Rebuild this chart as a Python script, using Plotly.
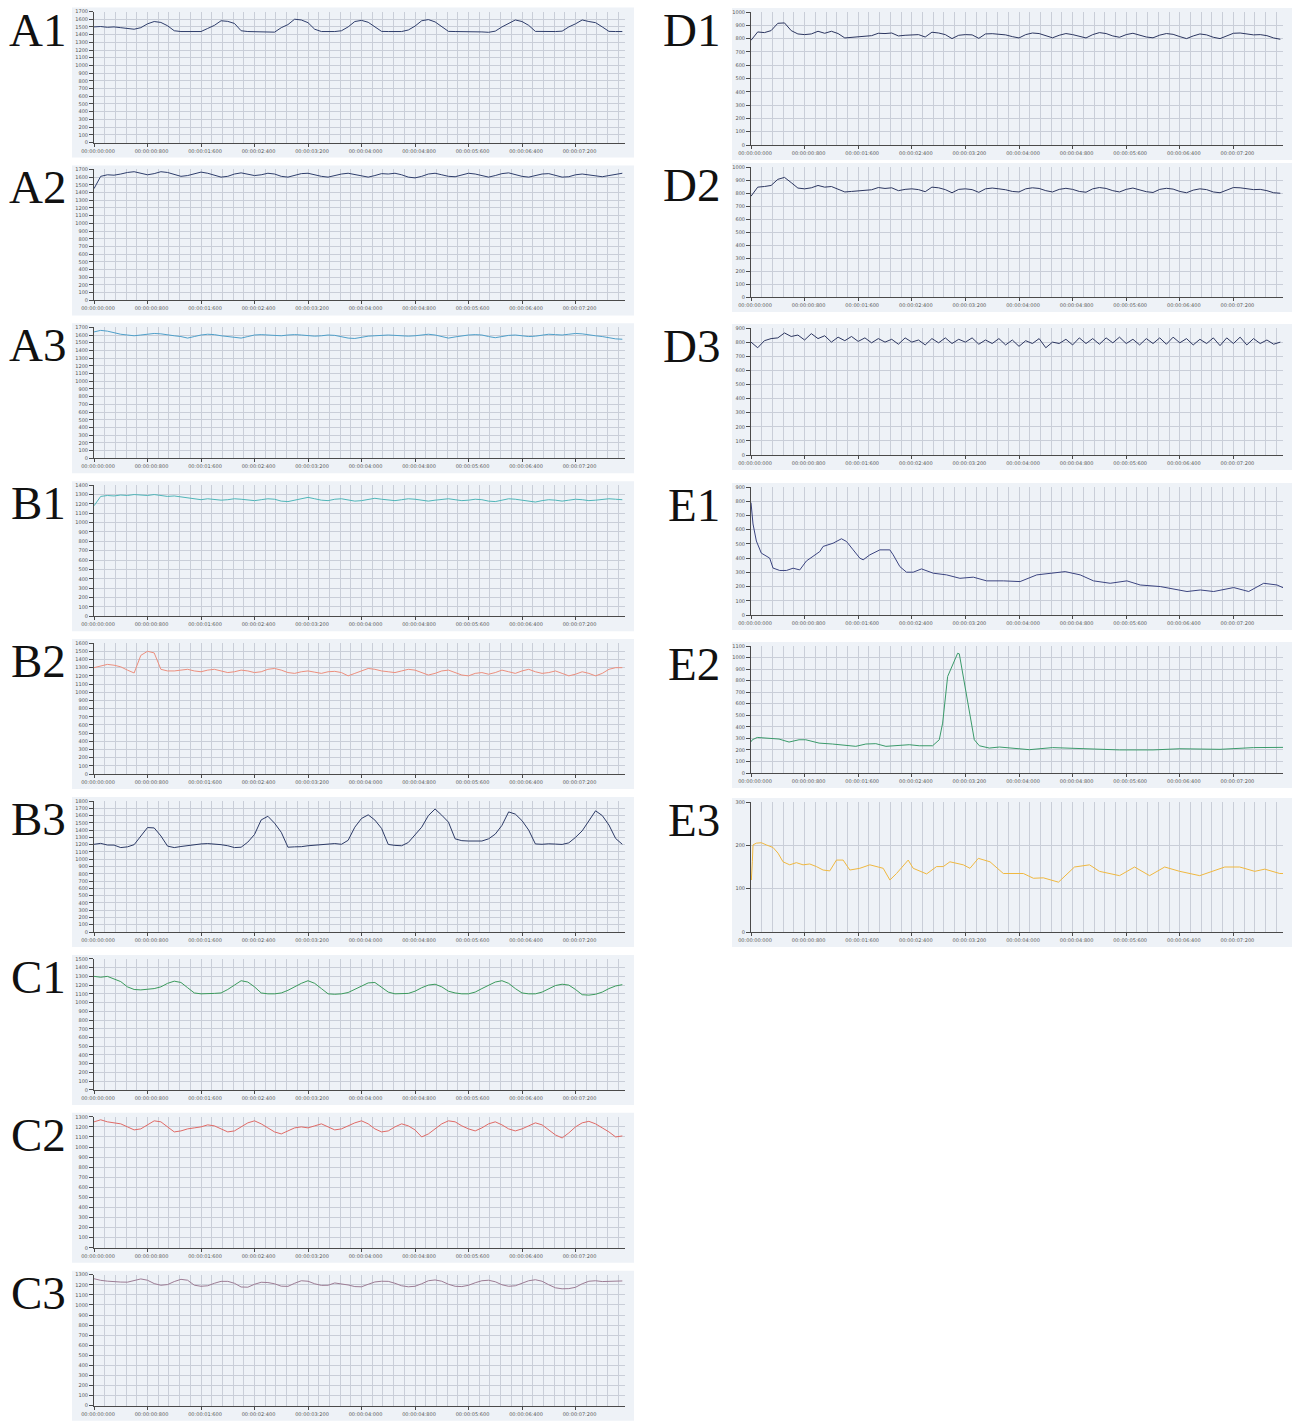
import plotly.graph_objects as go

W, H = 1298, 1423

# ---------------- data ----------------
T100 = list(range(0, 8000, 100))  # sampling instants (ms)

X_TICK_MS = [0, 800, 1600, 2400, 3200, 4000, 4800, 5600, 6400, 7200]
X_TICK_TEXT = ["00:00:00:000", "00:00:00:800", "00:00:01:600", "00:00:02:400",
               "00:00:03:200", "00:00:04:000", "00:00:04:800", "00:00:05:600",
               "00:00:06:400", "00:00:07:200"]

A1 = [1500, 1505, 1495, 1500, 1490, 1478, 1470, 1490, 1540, 1570,
      1558, 1515, 1450, 1440, 1440, 1438, 1440, 1480, 1520, 1580,
      1572, 1545, 1450, 1440, 1440, 1440, 1438, 1432, 1490, 1530,
      1600, 1590, 1555, 1470, 1440, 1440, 1440, 1450, 1500, 1570,
      1585, 1560, 1500, 1442, 1440, 1440, 1440, 1460, 1510, 1580,
      1595, 1565, 1500, 1442, 1440, 1440, 1440, 1438, 1435, 1430,
      1445, 1500, 1540, 1590, 1570, 1520, 1442, 1440, 1440, 1440,
      1445, 1500, 1540, 1590, 1570, 1555, 1500, 1442, 1440, 1440]

A2 = [1450, 1610, 1630, 1625, 1640, 1660, 1670, 1650, 1630, 1645,
      1670, 1660, 1630, 1610, 1620, 1640, 1665, 1650, 1620, 1600,
      1610, 1640, 1655, 1640, 1620, 1630, 1650, 1640, 1610, 1600,
      1620, 1645, 1650, 1630, 1610, 1600, 1620, 1640, 1650, 1635,
      1615, 1600, 1620, 1645, 1640, 1650, 1630, 1600, 1590, 1610,
      1640, 1650, 1630, 1610, 1605, 1625, 1650, 1640, 1615, 1600,
      1620, 1645, 1655, 1635, 1610, 1600, 1620, 1640, 1645, 1625,
      1600, 1605, 1630, 1640, 1630, 1615, 1605, 1620, 1640, 1650]

A3 = [1640, 1660, 1650, 1630, 1610, 1600, 1590, 1600, 1610, 1620,
      1615, 1600, 1590, 1580, 1560, 1580, 1600, 1610, 1605, 1590,
      1580, 1575, 1560, 1580, 1600, 1605, 1600, 1590, 1590, 1600,
      1605, 1600, 1590, 1585, 1590, 1600, 1595, 1580, 1560, 1555,
      1570, 1585, 1590, 1595, 1600, 1595, 1590, 1585, 1590, 1600,
      1610, 1600, 1580, 1560, 1575, 1590, 1600, 1605, 1600, 1580,
      1565, 1580, 1595, 1600, 1590, 1580, 1585, 1600, 1610, 1605,
      1600, 1610, 1620, 1615, 1600, 1590, 1580, 1565, 1550, 1545]

B1 = [1180, 1280, 1290, 1285, 1295, 1290, 1300, 1295, 1290, 1300,
      1290, 1280, 1285, 1275, 1260, 1250, 1245, 1255, 1250, 1240,
      1245, 1255, 1250, 1240, 1235, 1245, 1255, 1250, 1230, 1225,
      1240, 1260, 1270, 1255, 1240, 1235, 1250, 1255, 1245, 1230,
      1235, 1250, 1260, 1250, 1240, 1235, 1245, 1255, 1250, 1240,
      1230, 1240, 1250, 1255, 1245, 1235, 1240, 1250, 1245, 1230,
      1225, 1240, 1255, 1250, 1240, 1225, 1220, 1235, 1245, 1240,
      1230, 1240, 1250, 1245, 1235, 1240, 1250, 1255, 1250, 1245]

B2 = [1300, 1320, 1340, 1330, 1310, 1270, 1235, 1450, 1500, 1480,
      1280, 1260, 1260, 1270, 1280, 1260, 1250, 1270, 1280, 1260,
      1240, 1250, 1270, 1260, 1240, 1250, 1280, 1290, 1270, 1240,
      1230, 1250, 1260, 1245, 1230, 1250, 1255, 1240, 1200, 1230,
      1260, 1290, 1280, 1260, 1250, 1240, 1260, 1280, 1270, 1240,
      1210, 1230, 1260, 1270, 1240, 1210, 1200, 1230, 1240, 1220,
      1240, 1270, 1250, 1230, 1260, 1280, 1250, 1230, 1240, 1260,
      1230, 1200, 1220, 1250, 1230, 1200, 1230, 1280, 1300, 1300]

B3 = [1205, 1218, 1195, 1194, 1160, 1170, 1200, 1320, 1435, 1430,
      1320, 1180, 1160, 1175, 1190, 1200, 1210, 1215, 1210, 1200,
      1185, 1160, 1165, 1235, 1340, 1540, 1590, 1495, 1370, 1165,
      1170, 1172, 1185, 1195, 1205, 1210, 1215, 1205, 1260, 1440,
      1560, 1610, 1538, 1423, 1203, 1190, 1185, 1230, 1340, 1440,
      1600, 1690, 1605, 1510, 1280, 1255, 1250, 1248, 1250, 1280,
      1345, 1465, 1650, 1620, 1530, 1400, 1210, 1205, 1212, 1208,
      1203, 1225, 1300, 1390, 1520, 1665, 1600, 1470, 1285, 1205]

C1 = [1300, 1290, 1300, 1270, 1240, 1180, 1150, 1145, 1150, 1160,
      1180, 1220, 1245, 1230, 1170, 1110, 1100, 1100, 1105, 1110,
      1150, 1200, 1250, 1235, 1180, 1110, 1100, 1100, 1110, 1140,
      1180, 1220, 1250, 1220, 1160, 1100, 1095, 1100, 1115, 1150,
      1190, 1225, 1230, 1180, 1120, 1100, 1100, 1105, 1130, 1170,
      1200, 1210, 1180, 1130, 1110, 1100, 1100, 1120, 1160, 1200,
      1235, 1250, 1220, 1160, 1110, 1100, 1100, 1120, 1160, 1195,
      1210, 1200, 1150, 1090, 1085, 1095, 1120, 1160, 1190, 1205]

C2 = [1250, 1270, 1250, 1240, 1230, 1200, 1170, 1180, 1220, 1260,
      1250, 1200, 1150, 1160, 1180, 1190, 1200, 1220, 1210, 1180,
      1150, 1160, 1200, 1240, 1260, 1230, 1190, 1150, 1130, 1160,
      1190, 1200, 1190, 1210, 1230, 1200, 1170, 1180, 1210, 1240,
      1260, 1230, 1180, 1150, 1160, 1200, 1230, 1210, 1170, 1100,
      1130, 1180, 1230, 1260, 1250, 1210, 1180, 1160, 1190, 1230,
      1250, 1220, 1180, 1160, 1180, 1210, 1240, 1220, 1170, 1120,
      1090, 1140, 1200, 1240, 1255, 1230, 1190, 1150, 1100, 1110]

C3 = [1260, 1244, 1236, 1230, 1227, 1226, 1245, 1258, 1245, 1212,
      1195, 1202, 1232, 1254, 1245, 1196, 1185, 1190, 1215, 1234,
      1234, 1215, 1178, 1176, 1205, 1225, 1222, 1210, 1186, 1184,
      1215, 1240, 1235, 1210, 1194, 1195, 1218, 1211, 1198, 1182,
      1180, 1205, 1228, 1235, 1234, 1215, 1190, 1180, 1185, 1210,
      1240, 1248, 1235, 1205, 1185, 1182, 1195, 1220, 1240, 1245,
      1230, 1200, 1185, 1190, 1215, 1240, 1250, 1235, 1200, 1170,
      1160, 1162, 1175, 1210, 1235, 1240, 1232, 1236, 1240, 1238]

D1 = [787, 850, 845, 860, 915, 918, 860, 835, 830, 835,
      855, 840, 855, 838, 805, 810, 812, 818, 822, 840,
      838, 842, 820, 825, 830, 830, 812, 848, 842, 830,
      800, 825, 830, 828, 802, 835, 837, 835, 828, 815,
      805, 830, 842, 838, 820, 806, 825, 838, 830, 815,
      805, 830, 845, 838, 820, 810, 830, 840, 828, 812,
      806, 826, 838, 832, 815, 800, 820, 835, 828, 810,
      800, 822, 840, 842, 835, 828, 830, 822, 805, 795]

D2 = [775, 845, 850, 858, 905, 920, 880, 838, 832, 840,
      858, 845, 850, 830, 808, 812, 815, 820, 825, 842,
      835, 840, 818, 828, 832, 826, 810, 845, 840, 826,
      802, 828, 832, 826, 805, 832, 838, 832, 825, 812,
      808, 832, 840, 835, 818, 808, 828, 836, 828, 812,
      806, 832, 842, 835, 818, 808, 828, 838, 826, 810,
      804, 828, 836, 830, 812, 802, 822, 832, 826, 808,
      802, 825, 842, 840, 832, 826, 828, 818, 802, 798]

D3 = [800, 760, 810, 825, 830, 865, 840, 850, 815, 860,
      825, 845, 800, 835, 810, 840, 805, 830, 795, 825,
      800, 820, 785, 830, 800, 815, 780, 825, 795, 830,
      790, 820, 800, 830, 785, 815, 790, 825, 780, 815,
      770, 810, 790, 825, 760, 800, 790, 820, 780, 830,
      790, 825, 785, 830, 795, 835, 790, 820, 780, 825,
      790, 830, 785, 835, 795, 825, 780, 820, 790, 830,
      775, 830, 790, 835, 780, 825, 790, 815, 785, 800]

E1_T = [0, 30, 80, 154, 279, 329, 429, 528, 628, 728, 827, 927, 1027, 1076,
        1226, 1350, 1425, 1525, 1624, 1674, 1774, 1923, 2072, 2122, 2222,
        2321, 2421, 2545, 2720, 2919, 3118, 3318, 3517, 3766, 4016, 4265,
        4614, 4689, 4913, 5112, 5361, 5610, 5809, 6108, 6507, 6706, 6905,
        7204, 7428, 7652, 7851, 7950]
E1 = [790, 640, 520, 435, 400, 330, 313, 313, 329, 317, 380, 416, 446, 482,
      505, 536, 517, 458, 400, 388, 423, 458, 458, 423, 340, 301, 301, 324,
      294, 282, 258, 266, 240, 240, 235, 282, 301, 305, 282, 240, 223, 240,
      211, 200, 165, 176, 165, 193, 165, 223, 211, 190]

E2_T = [0, 20, 94, 219, 418, 568, 717, 817, 1016, 1215, 1415, 1564, 1714,
        1863, 2013, 2162, 2362, 2511, 2710, 2810, 2860, 2935, 3009, 3084,
        3109, 3159, 3233, 3283, 3333, 3408, 3557, 3707, 3906, 4155, 4500,
        5000, 5500, 6000, 6400, 7000, 7500, 7950]
E2 = [270, 288, 308, 303, 294, 268, 288, 288, 259, 251, 236, 231, 251, 254,
      231, 236, 245, 236, 236, 288, 432, 836, 937, 1037, 1032, 865, 634, 432,
      288, 236, 216, 225, 216, 202, 220, 210, 200, 200, 210, 205, 220, 222]

E3_T = [0, 5, 20, 30, 80, 154, 229, 329, 403, 478, 578, 677, 777, 877, 976,
        1076, 1176, 1275, 1375, 1475, 1624, 1774, 1973, 2073, 2172, 2346,
        2421, 2621, 2770, 2870, 2969, 3169, 3268, 3393, 3567, 3766, 4065,
        4215, 4364, 4589, 4828, 5052, 5200, 5500, 5725, 5949, 6174, 6398,
        6697, 7071, 7294, 7518, 7668, 7892, 7950]
E3 = [130, 120, 162, 201, 205, 206, 201, 195, 182, 162, 155, 160, 155, 157,
      151, 143, 141, 166, 166, 143, 147, 155, 147, 120, 135, 166, 147, 134,
      151, 151, 162, 155, 147, 170, 162, 135, 135, 124, 125, 115, 150, 155,
      140, 130, 150, 130, 150, 140, 130, 150, 150, 140, 145, 135, 135]

for s in (A1, A2, A3, B1, B2, B3, C1, C2, C3, D1, D2, D3):
    assert len(s) == len(T100), len(s)
assert len(E1) == len(E1_T) and len(E2) == len(E2_T) and len(E3) == len(E3_T)

# ---------------- styling / layout spec ----------------
BG = "#eef2f7"
GRID = "#c9ced8"
AXIS = "#4a4a4a"
TICKTXT = "#555555"
XMAX = 7940

LEFT = (94, 625)
RIGHT = (751, 1283)


def left_rows(k):
    top = 11.5 + k * 157.9
    return top, top + 131


PANELS = [
    # label, t, values, ymax, color, column, (top, bottom)
    ("A1", T100, A1, 1700, "#2e3d6b", "L", left_rows(0)),
    ("A2", T100, A2, 1700, "#2e3d6b", "L", left_rows(1)),
    ("A3", T100, A3, 1700, "#4f9fc9", "L", left_rows(2)),
    ("B1", T100, B1, 1400, "#4fb5b8", "L", left_rows(3)),
    ("B2", T100, B2, 1600, "#ec8f7e", "L", left_rows(4)),
    ("B3", T100, B3, 1800, "#2c3a66", "L", left_rows(5)),
    ("C1", T100, C1, 1500, "#3b9a5c", "L", left_rows(6)),
    ("C2", T100, C2, 1300, "#df6a66", "L", left_rows(7)),
    ("C3", T100, C3, 1300, "#9c7c94", "L", left_rows(8)),
    ("D1", T100, D1, 1000, "#2c3660", "R", (12, 145)),
    ("D2", T100, D2, 1000, "#2c3660", "R", (167, 297)),
    ("D3", T100, D3, 900, "#2c3660", "R", (328, 455)),
    ("E1", E1_T, E1, 900, "#3b4480", "R", (487, 615)),
    ("E2", E2_T, E2, 1100, "#3a9a6a", "R", (646, 773)),
    ("E3", E3_T, E3, 300, "#f0b840", "R", (802, 932)),
]

fig = go.Figure()
layout = dict(
    width=W, height=H, autosize=False,
    margin=dict(l=0, r=0, t=0, b=0, pad=0, autoexpand=False),
    paper_bgcolor="white", plot_bgcolor=BG,
    showlegend=False,
    font=dict(family="DejaVu Sans"),
)
shapes = []
annotations = []

for i, (lab, t, v, ymax, color, col, (top, bot)) in enumerate(PANELS, start=1):
    xa = "x" if i == 1 else f"x{i}"
    ya = "y" if i == 1 else f"y{i}"
    x0, x1 = LEFT if col == "L" else RIGHT
    fig.add_trace(go.Scatter(x=t, y=v, mode="lines",
                             line=dict(color=color, width=1),
                             xaxis=xa, yaxis=ya, hoverinfo="skip"))
    layout[f"xaxis{i}"] = dict(
        domain=[x0 / W, x1 / W], anchor=ya, range=[0, XMAX],
        tickmode="array", tickvals=X_TICK_MS, ticktext=X_TICK_TEXT,
        showgrid=True, gridcolor=GRID, gridwidth=1,
        minor=dict(dtick=160, tick0=0, showgrid=True, gridcolor=GRID,
                   gridwidth=1, ticks=""),
        showline=True, linecolor=AXIS, linewidth=1,
        ticks="outside", ticklen=3, tickcolor=AXIS, tickwidth=1,
        tickfont=dict(size=5, color=TICKTXT), ticklabelshift=4,
        zeroline=False, fixedrange=True, automargin=False,
    )
    layout[f"yaxis{i}"] = dict(
        domain=[1 - bot / H, 1 - top / H], anchor=xa, range=[0, ymax],
        tickmode="linear", tick0=0, dtick=100,
        showgrid=True, gridcolor=GRID, gridwidth=1,
        showline=True, linecolor=AXIS, linewidth=1,
        ticks="outside", ticklen=4, tickcolor=AXIS, tickwidth=1,
        tickfont=dict(size=5, color=TICKTXT),
        zeroline=False, fixedrange=True, automargin=False,
    )
    # panel background
    if col == "L":
        bx0, bx1, lx = 72, 634, 68
    else:
        bx0, bx1, lx = 732, 1292, 722
    shapes.append(dict(type="rect", xref="paper", yref="paper",
                       x0=bx0 / W, x1=bx1 / W,
                       y0=1 - (bot + 15) / H, y1=1 - (top - 4) / H,
                       fillcolor=BG, line=dict(width=0), layer="below"))
    annotations.append(dict(text=lab, xref="paper", yref="paper",
                            x=lx / W, y=1 - (top + 18) / H,
                            xanchor="right", yanchor="middle", showarrow=False,
                            font=dict(family="Liberation Serif", size=47,
                                      color="#111111")))

layout["shapes"] = shapes
layout["annotations"] = annotations
fig.update_layout(**layout)

fig.write_html("out.html", config={"displayModeBar": False},
               post_script="document.body.style.margin='0';")
